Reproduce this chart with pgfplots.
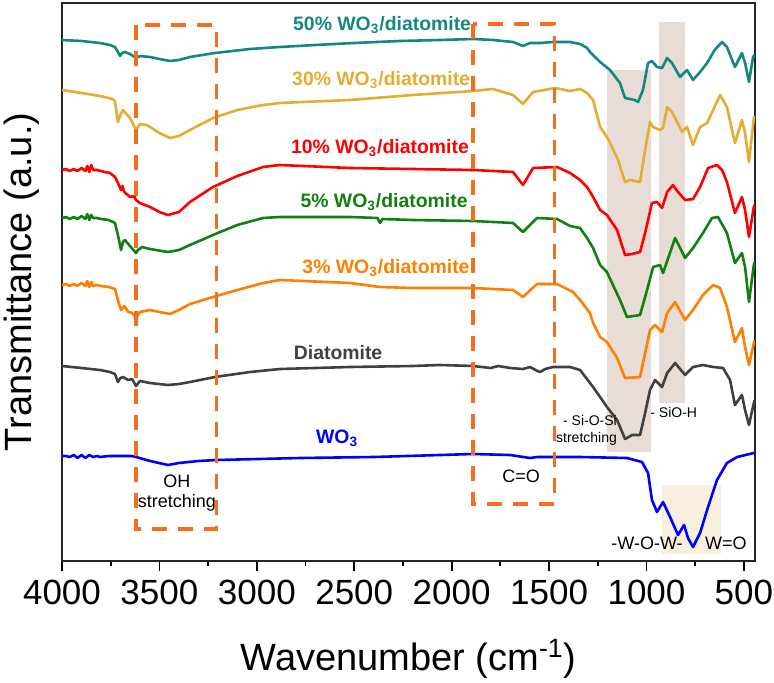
\documentclass[border=0pt]{standalone}
\usepackage{fontspec}
\setmainfont{Liberation Sans}
\usepackage{pgfplots}
\pgfplotsset{compat=1.18}
\definecolor{cteal}{RGB}{18,136,128}
\definecolor{cgold}{RGB}{228,172,48}
\definecolor{cred}{RGB}{255,0,0}
\definecolor{cgreen}{RGB}{16,128,16}
\definecolor{corange}{RGB}{255,128,0}
\definecolor{cgray}{RGB}{64,64,64}
\definecolor{cblue}{RGB}{0,0,255}
\definecolor{cshade}{RGB}{232,221,214}
\definecolor{ccream}{RGB}{248,240,222}
\definecolor{cdash}{RGB}{245,110,30}
\begin{document}
\begin{tikzpicture}
\begin{axis}[
  name=ax, at={(0,0)}, anchor=south west,
  scale only axis, width=346.5pt, height=279pt,
  x dir=reverse, y dir=reverse,
  xmin=443, xmax=4000, ymin=3, ymax=561,
  xtick={500,1000,...,4000}, minor xtick={750,1250,...,3750},
  ytick=\empty, xtick pos=left,
  tick align=outside,
  major tick length=5pt, minor tick length=2.5pt,
  every tick/.style={line width=0.9pt, black},
  axis line style={line width=1pt, black!85},
  /pgf/number format/assume math mode=true,
  /pgf/number format/set thousands separator={},
  xticklabel style={font=\fontsize{17.5}{20}\selectfont, inner sep=0pt, yshift=-4.5pt},
  xlabel={Wavenumber (cm\textsuperscript{-1})},
  xlabel style={font=\fontsize{19}{22}\selectfont, at={(axis description cs:0.5,0)}, anchor=base, yshift=-54.5pt},
  ylabel={Transmittance (a.u.)},
  ylabel style={font=\fontsize{19}{22}\selectfont, at={(axis description cs:0,0.5)}, anchor=north, inner sep=0pt, yshift=29pt},
  every axis plot/.append style={line width=1.3pt, line join=round},
]
% shading
\fill[cshade] (axis cs:1202,70) rectangle (axis cs:976,452);
\fill[cshade] (axis cs:935,22) rectangle (axis cs:802,403);
\fill[ccream] (axis cs:920,485) rectangle (axis cs:617,554);

% 50%
\addplot[cteal] coordinates {(4000,40)(3900,41)(3805,43)(3754,45)(3728,47)(3713,52)(3702,56)(3692,53)(3677,52)(3651,54)(3620,58)(3600,56)(3548,57)(3500,59)(3446,61)(3400,60)(3343,57)(3215,53)(3035,49)(2881,47)(2700,45)(2500,43)(2265,41)(2060,40)(1890,39)(1788,40)(1685,42)(1634,46)(1598,43)(1546,43)(1480,42)(1392,42)(1341,44)(1305,48)(1290,52)(1238,62)(1187,70)(1136,83)(1110,98)(1085,99)(1060,100)(1043,102)(1018,90)(992,63)(972,61)(946,67)(920,68)(894,58)(869,63)(828,77)(792,70)(761,80)(725,72)(689,63)(650,50)(612,42)(587,47)(546,67)(510,53)(494,63)(474,82)(453,57)(445,55)};
% 30%
\addplot[cgold] coordinates {(4000,90)(3900,93)(3805,96)(3740,99)(3728,101)(3713,122)(3700,115)(3687,110)(3651,118)(3620,130)(3600,124)(3564,125)(3500,133)(3446,138)(3400,136)(3343,130)(3225,118)(3100,110)(2968,105)(2881,103)(2522,100)(2200,95)(1890,91)(1788,89)(1685,95)(1634,104)(1582,92)(1470,88)(1392,91)(1341,89)(1305,93)(1274,100)(1238,127)(1203,137)(1187,143)(1146,160)(1110,182)(1085,180)(1033,182)(1007,150)(982,122)(966,127)(931,130)(915,128)(894,107)(869,112)(843,122)(817,132)(792,127)(761,145)(725,127)(689,123)(622,95)(587,107)(546,143)(510,120)(494,133)(474,162)(449,118)(445,116)};
% 10%
\addplot[cred] coordinates {(4000,170)(3980,169)(3960,171)(3940,169)(3920,171)(3900,168)(3880,171)(3870,166)(3860,172)(3850,165)(3840,170)(3820,170)(3800,171)(3780,172)(3754,173)(3728,177)(3713,183)(3697,190)(3690,186)(3680,192)(3651,197)(3630,196)(3620,200)(3600,203)(3548,207)(3500,212)(3456,215)(3400,212)(3343,202)(3225,187)(3100,176)(2968,167)(2881,165)(2522,168)(2200,169)(1890,170)(1685,172)(1634,185)(1582,168)(1459,167)(1392,173)(1341,180)(1305,187)(1274,197)(1238,210)(1203,215)(1151,230)(1110,255)(1074,254)(1033,252)(1007,233)(972,203)(946,202)(920,208)(894,192)(864,185)(838,192)(802,200)(761,199)(725,187)(684,168)(638,165)(612,170)(587,182)(546,213)(510,197)(494,210)(474,237)(449,207)(445,205)};
% 5%
\addplot[cgreen] coordinates {(4000,218)(3980,217)(3960,219)(3940,217)(3920,219)(3900,216)(3880,219)(3870,214)(3860,220)(3850,215)(3840,218)(3820,218)(3800,219)(3760,220)(3728,223)(3713,235)(3697,250)(3687,242)(3677,240)(3651,246)(3620,253)(3610,250)(3589,247)(3548,249)(3456,252)(3400,250)(3343,245)(3225,235)(3100,225)(2968,218)(2881,217)(2522,217)(2380,218)(2368,223)(2355,219)(2200,220)(1890,221)(1685,223)(1634,232)(1562,218)(1459,219)(1392,226)(1341,228)(1305,238)(1274,248)(1238,265)(1203,272)(1136,300)(1100,317)(1033,315)(997,290)(966,267)(931,265)(915,273)(853,238)(802,258)(761,248)(710,233)(664,218)(633,217)(587,233)(546,263)(510,253)(494,267)(474,302)(449,265)(445,262)};
% 3%
\addplot[corange] coordinates {(4000,285)(3980,284)(3960,286)(3940,284)(3920,286)(3900,283)(3880,286)(3870,281)(3860,287)(3850,282)(3840,286)(3820,285)(3800,286)(3760,287)(3728,289)(3713,300)(3697,310)(3680,306)(3660,312)(3640,313)(3620,318)(3600,312)(3548,310)(3500,312)(3446,314)(3400,310)(3343,304)(3225,297)(3100,290)(2968,283)(2881,280)(2522,283)(2368,287)(2200,288)(1890,288)(1685,290)(1634,297)(1562,284)(1459,284)(1377,292)(1341,300)(1290,313)(1274,323)(1238,337)(1203,342)(1151,358)(1110,378)(1033,377)(1007,353)(982,330)(956,325)(920,332)(894,313)(853,302)(802,320)(761,310)(710,295)(658,285)(622,288)(587,307)(546,342)(510,328)(494,347)(474,365)(449,343)(445,340)};
% Diatomite
\addplot[cgray] coordinates {(4000,366)(3900,368)(3805,370)(3754,372)(3728,374)(3713,382)(3700,378)(3687,377)(3660,380)(3640,379)(3620,386)(3600,381)(3548,383)(3456,385)(3400,384)(3343,382)(3215,377)(3035,372)(2881,369)(2522,367)(2200,366)(2060,365)(1890,366)(1800,368)(1760,366)(1700,368)(1634,369)(1598,367)(1560,371)(1546,372)(1520,369)(1480,367)(1392,367)(1341,370)(1274,387)(1238,397)(1203,407)(1151,420)(1110,439)(1074,435)(1033,435)(1007,413)(982,390)(956,380)(920,387)(894,373)(853,363)(802,375)(761,367)(710,365)(658,367)(607,368)(571,380)(546,405)(510,395)(494,410)(474,425)(449,403)(445,400)};
% WO3
\addplot[cblue] coordinates {(4000,456)(3980,456)(3960,457)(3940,455)(3920,458)(3900,455)(3880,458)(3860,455)(3840,457)(3820,456)(3805,457)(3760,456)(3700,456)(3640,456)(3620,457)(3548,461)(3456,465)(3400,463)(3300,461)(3204,460)(2778,458)(2400,457)(1890,454)(1700,455)(1598,458)(1560,457)(1474,457)(1341,457)(1100,458)(1023,462)(992,473)(972,500)(946,512)(915,502)(879,517)(838,535)(807,525)(787,538)(761,547)(725,533)(684,507)(638,480)(587,463)(535,457)(449,453)(445,453)};

% dashed boxes
\draw[cdash, line width=1.6pt, dash pattern=on 7.5pt off 5.5pt] (axis cs:3620,25) rectangle (axis cs:3209,529);
\draw[cdash, line width=1.6pt, dash pattern=on 7.5pt off 5.5pt] (axis cs:1890,24) rectangle (axis cs:1474,504);

% series labels
\begin{scope}[font=\fontsize{9.7}{12}\selectfont\bfseries]
\node[cteal] at (axis cs:2357,25) {50\% WO\textsubscript{3}/diatomite};
\node[cgold] at (axis cs:2362,80) {30\% WO\textsubscript{3}/diatomite};
\node[cred] at (axis cs:2368,148) {10\% WO\textsubscript{3}/diatomite};
\node[cgreen] at (axis cs:2347,202) {5\% WO\textsubscript{3}/diatomite};
\node[corange] at (axis cs:2337,268) {3\% WO\textsubscript{3}/diatomite};
\node[cgray] at (axis cs:2583,353) {Diatomite};
\node[cblue] at (axis cs:2588,438) {WO\textsubscript{3}};
\end{scope}
% annotations
\begin{scope}[font=\fontsize{9}{11}\selectfont]
\node[align=center] at (axis cs:3410,493) {OH\\[-1pt]stretching};
\node at (axis cs:1644,476) {C=O};
\node at (axis cs:997,543) {-W-O-W-};
\node at (axis cs:592,543) {W=O};
\end{scope}
\begin{scope}[font=\fontsize{7}{8.5}\selectfont]
\node[align=right, anchor=east, inner sep=0pt] at (axis cs:1150,430) {- Si-O-Si\\stretching};
\node[anchor=west, inner sep=0pt] at (axis cs:982,412) {- SiO-H};
\end{scope}
\end{axis}
\pgfresetboundingbox
\path[use as bounding box] ([shift={(-31pt,-61pt)}]ax.south west) rectangle ([shift={(9.5pt,1.5pt)}]ax.north east);
\end{tikzpicture}
\end{document}
